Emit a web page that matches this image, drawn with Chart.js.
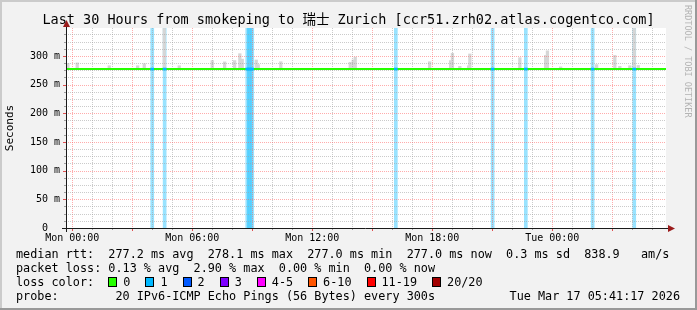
<!DOCTYPE html>
<html>
<head>
<meta charset="utf-8">
<script src="https://cdn.jsdelivr.net/npm/chart.js@4.4.0/dist/chart.umd.min.js"></script>
<style>
  html, body { margin: 0; padding: 0; background: #f2f2f2; }
  #wrap { position: relative; width: 697px; height: 310px; overflow: hidden; }
  canvas { position: absolute; left: 0; top: 0; }
  .t { position: absolute; font-family: "DejaVu Sans Mono", monospace; font-size: 11.8px;
       line-height: 14px; white-space: pre; color: #000; }
  #title { left: 0; top: 11px; width: 697px; text-align: center; font-size: 13.5px; line-height: 16px;
           font-family: "DejaVu Sans Mono", "Noto Sans CJK SC", monospace; }
  #wm { position: absolute; left: 683px; top: 5px; writing-mode: vertical-rl; font-family: "DejaVu Sans Mono", monospace;
        font-size: 8.5px; line-height: 10px; color: #b4b4b4; white-space: pre; }
  #l3 { display: flex; align-items: center; }
  .box { display: inline-block; width: 7px; height: 8px; border: 1px solid #000; margin-right: 6px; }
  .lab { margin-right: 15px; }
</style>
</head>
<body>
<div id="wrap">
  <canvas id="c" width="697" height="310"></canvas>
  <div class="t" id="title"></div>
  <div id="wm">RRDTOOL / TOBI OETIKER</div>
  <div class="t" id="l1" style="left:16px;top:247px"></div>
  <div class="t" id="l2" style="left:16px;top:261px"></div>
  <div class="t" id="l3" style="left:16px;top:275px"></div>
  <div class="t" id="l4" style="left:16px;top:289px"></div>
  <div class="t" id="l5" style="right:17px;top:289px"></div>
</div>
<script>
// time axis in hours counted from Mon 00:00 (window: Sun 23:41:17 .. Tue 05:41:17)
const startHour = -0.312;
const endHour = 29.688;
const tickHours = [0, 6, 12, 18, 24];
const tickLabels = ['Mon 00:00', 'Mon 06:00', 'Mon 12:00', 'Mon 18:00', 'Tue 00:00'];
const yTicks = [0, 50, 100, 150, 200, 250, 300];
const yTickLabels = ['0  ', '50 m', '100 m', '150 m', '200 m', '250 m', '300 m'];
const yMax = 348.8;

// median rtt (ms)
const medianHours = [startHour, endHour];
const medianRtt = [277.2, 277.2];

// smoke spikes: time and top of the ping spread (ms)
const smokeHours = [-0.22, 0.25, 1.85, 3.27, 3.6, 4.6, 5.35, 7.0, 7.62, 8.12, 8.38, 8.5, 9.2, 9.3, 10.43,
                    13.9, 14.05, 14.15, 17.87, 18.92, 19.01, 19.38, 19.82, 19.88, 22.38, 23.67, 23.76,
                    24.42, 26.22, 27.13, 27.38, 27.88, 28.1, 28.3];
const smokeTops  = [287, 288, 283, 283, 286.5, 348, 283, 292, 289.7, 292, 304, 294.5, 293, 285, 290,
                    289, 293, 298, 290, 292, 304.7, 282, 283, 303.5, 297, 301, 309,
                    281, 285, 301, 282, 283, 348, 283.5];

// packet loss events: time and loss colour index
const lossHours  = [4.0, 4.62, 8.75, 8.83, 8.92, 9.0, 16.18, 21.02, 22.68, 26.02, 28.1];
const lossLevels = [1, 1, 1, 1, 1, 1, 1, 1, 1, 1, 1];

const lossColors = ['#26ff00', '#00b8ff', '#0059ff', '#7e00ff', '#ff00ff', '#ff5500', '#ff0000', '#a10000'];
const lossLabels = ['0', '1', '2', '3', '4-5', '6-10', '11-19', '20/20'];

const statNames  = ['avg', 'max', 'min', 'now'];
const rttStats   = ['277.2', '278.1', '277.0', '277.0'];
const rttSd      = '0.3';
const rttAms     = '838.9';
const lossStats  = ['0.13', '2.90', '0.00', '0.00'];

function pale(hex, a) {
  const n = parseInt(hex.slice(1), 16);
  return `rgba(${n >> 16},${(n >> 8) & 255},${n & 255},${a})`;
}

// ——— texts ———
document.getElementById('title').textContent =
  'Last 30 Hours from smokeping to 瑞士 Zurich [ccr51.zrh02.atlas.cogentco.com]';
document.getElementById('l1').textContent = 'median rtt:  ' +
  rttStats.map((v, i) => v + ' ms ' + statNames[i]).join('  ') +
  '  ' + rttSd + ' ms sd  ' + rttAms + '   am/s';
document.getElementById('l2').textContent = 'packet loss: ' +
  lossStats.map((v, i) => v + ' % ' + statNames[i]).join('  ');
const l3 = document.getElementById('l3');
l3.innerHTML = '<span>loss color:  </span>' + lossLabels.map((l, i) =>
  `<span class="box" style="background:${lossColors[i]}"></span><span class="lab">${l}</span>`).join('');
document.getElementById('l4').textContent = 'probe:        20 IPv6-ICMP Echo Pings (56 Bytes) every 300s';
document.getElementById('l5').textContent = 'Tue Mar 17 05:41:17 2026';

// ——— frame, grid, axes (rrdtool look) ———
const rrdPlugin = {
  id: 'rrd',
  beforeDraw(chart) {
    const { ctx, width: w, height: h, chartArea: a } = chart;
    ctx.save();
    ctx.fillStyle = '#f2f2f2'; ctx.fillRect(0, 0, w, h);
    ctx.fillStyle = '#cbcbcb'; ctx.fillRect(0, 0, w, 2); ctx.fillRect(0, 0, 2, h);
    ctx.fillStyle = '#999999'; ctx.fillRect(0, h - 2, w, 2); ctx.fillRect(w - 2, 0, 2, h);
    ctx.fillStyle = '#ffffff'; ctx.fillRect(a.left, a.top, a.right - a.left, a.bottom - a.top);
    ctx.restore();
  },
  afterDatasetDraw(chart, args) {
    if (args.index !== 1) return;   // grid goes over loss bars + smoke, under the median
    const { ctx, chartArea: a, scales: { x, y } } = chart;
    ctx.save();
    ctx.lineWidth = 1;
    ctx.setLineDash([1, 1]);
    for (let hr = 0; hr <= 29; hr++) {
      const px = Math.round(x.getPixelForValue(hr)) + 0.5;
      ctx.strokeStyle = hr % 3 === 0 ? 'rgba(255,90,90,0.5)' : 'rgba(160,160,160,0.55)';
      ctx.beginPath(); ctx.moveTo(px, a.top); ctx.lineTo(px, a.bottom); ctx.stroke();
    }
    for (let v = 12.5; v < yMax; v += 12.5) {
      const py = Math.round(y.getPixelForValue(v)) + 0.5;
      ctx.strokeStyle = v % 50 === 0 ? 'rgba(255,90,90,0.5)' : 'rgba(160,160,160,0.55)';
      ctx.beginPath(); ctx.moveTo(a.left, py); ctx.lineTo(a.right, py); ctx.stroke();
    }
    ctx.restore();
  },
  afterDraw(chart) {
    const { ctx, chartArea: a, scales: { x, y } } = chart;
    ctx.save();
    // ticks
    for (let hr = 0; hr <= 29; hr++) {
      const px = Math.round(x.getPixelForValue(hr)) + 0.5;
      ctx.strokeStyle = hr % 3 === 0 ? '#e05050' : '#a0a0a0';
      ctx.beginPath(); ctx.moveTo(px, a.bottom); ctx.lineTo(px, a.bottom + (hr % 3 === 0 ? 3 : 2)); ctx.stroke();
    }
    for (let v = 12.5; v < yMax; v += 12.5) {
      const py = Math.round(y.getPixelForValue(v)) + 0.5;
      ctx.strokeStyle = v % 50 === 0 ? '#e05050' : '#a0a0a0';
      ctx.beginPath(); ctx.moveTo(a.left - (v % 50 === 0 ? 3 : 2), py); ctx.lineTo(a.left, py); ctx.stroke();
    }
    // axis lines
    const ax = Math.round(a.left) + 0.5, ay = Math.round(a.bottom) + 0.5;
    ctx.strokeStyle = '#1a1a1a';
    ctx.beginPath(); ctx.moveTo(a.left - 4, ay); ctx.lineTo(a.right + 3, ay); ctx.stroke();
    ctx.beginPath(); ctx.moveTo(ax, a.bottom + 4); ctx.lineTo(ax, a.top - 3); ctx.stroke();
    // arrows
    ctx.fillStyle = '#9b1c1c';
    ctx.beginPath();
    ctx.moveTo(a.right + 2, ay - 3.5); ctx.lineTo(a.right + 9, ay); ctx.lineTo(a.right + 2, ay + 3.5);
    ctx.closePath(); ctx.fill();
    ctx.beginPath();
    ctx.moveTo(ax - 3.5, a.top - 1); ctx.lineTo(ax, a.top - 8); ctx.lineTo(ax + 3.5, a.top - 1);
    ctx.closePath(); ctx.fill();
    ctx.restore();
  }
};

const ctx = document.getElementById('c').getContext('2d');
new Chart(ctx, {
  type: 'line',
  data: {
    datasets: [
      { // 0: loss bars, full height, pale loss colour
        type: 'bar', order: 4, grouped: false, barThickness: 3,
        data: lossHours.map((h, i) => ({ x: h, y: [0, yMax] })),
        backgroundColor: lossLevels.map(l => pale(lossColors[l], 0.4)),
        borderWidth: 0
      },
      { // 1: smoke
        type: 'bar', order: 3, grouped: false, barThickness: 2.6,
        data: smokeHours.map((h, i) => ({ x: h, y: [medianRtt[0] - 1, smokeTops[i]] })),
        backgroundColor: '#d6d6d6',
        borderWidth: 0
      },
      { // 2: median line
        type: 'line', order: 2,
        data: medianHours.map((h, i) => ({ x: h, y: medianRtt[i] })),
        borderColor: lossColors[0], borderWidth: 2, pointRadius: 0, tension: 0
      },
      { // 3: median coloured by loss
        type: 'bar', order: 1, grouped: false, barThickness: 3,
        data: lossHours.map(h => ({ x: h, y: [medianRtt[0] - 1.74, medianRtt[0] + 1.74] })),
        backgroundColor: lossLevels.map(l => lossColors[l]),
        borderWidth: 0
      }
    ]
  },
  options: {
    responsive: false,
    animation: false,
    devicePixelRatio: 1,
    layout: { padding: { left: 0, right: 31, top: 28, bottom: 0 } },
    plugins: { legend: { display: false }, tooltip: { enabled: false } },
    scales: {
      x: {
        type: 'linear', min: startHour, max: endHour, offset: false,
        grid: { display: false, drawTicks: false }, border: { display: false },
        afterFit: s => { s.height = 82; },
        afterBuildTicks: s => { s.ticks = tickHours.map(v => ({ value: v })); },
        ticks: {
          autoSkip: false, maxRotation: 0, padding: 4, color: '#000',
          font: { family: 'DejaVu Sans Mono', size: 10 },
          callback: (v, i) => tickLabels[i]
        }
      },
      y: {
        type: 'linear', min: 0, max: yMax,
        grid: { display: false, drawTicks: false }, border: { display: false },
        afterFit: s => { s.width = 66; },
        afterBuildTicks: s => { s.ticks = yTicks.map(v => ({ value: v })); },
        ticks: {
          autoSkip: false, padding: 6, color: '#000',
          font: { family: 'DejaVu Sans Mono', size: 10 },
          callback: (v, i) => yTickLabels[i]
        },
        title: {
          display: true, text: 'Seconds', color: '#000',
          font: { family: 'DejaVu Sans Mono', size: 11 }, padding: { top: 4, bottom: 4 }
        }
      }
    }
  },
  plugins: [rrdPlugin]
});
</script>
</body>
</html>
